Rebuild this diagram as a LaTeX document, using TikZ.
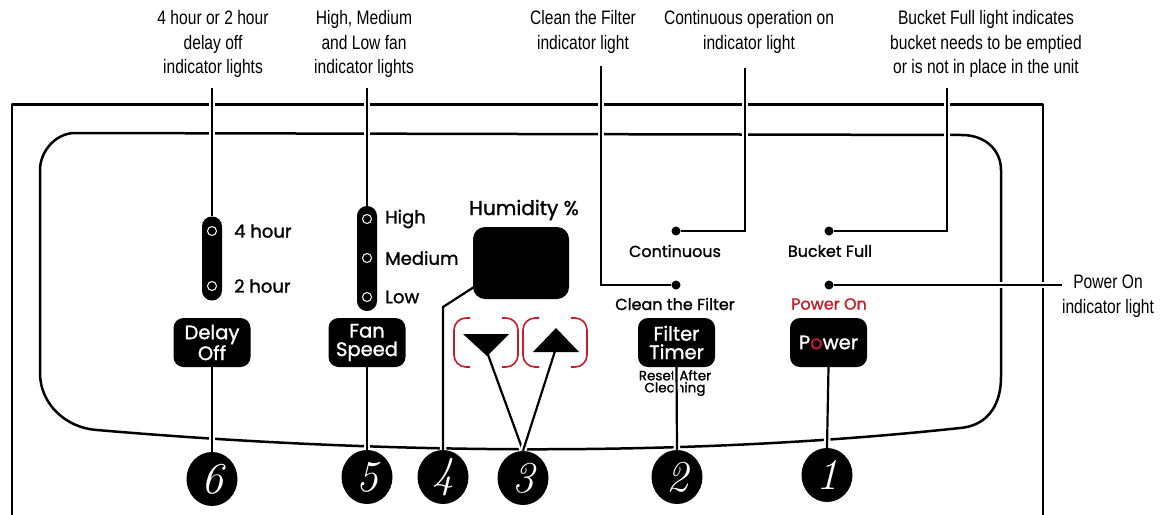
\documentclass[tikz,border=0pt]{standalone}
\usepackage{fontspec}
\usetikzlibrary{shapes.geometric}
\newfontfamily\capfont[FakeStretch=0.8]{Liberation Sans}
\newfontfamily\panelfont[FakeBold=1.3]{Poppins}
\definecolor{panelred}{RGB}{196,28,40}
\pgfdeclarelayer{back}
\pgfdeclarelayer{mid}
\pgfsetlayers{back,mid,main}
\tikzset{
  frameline/.style={line width=2.5pt, line join=round},
  leader/.style={line width=2.2pt, preaction={draw=white, line width=6.5pt}},
  captext/.style={font=\capfont\fontsize{19.5}{24.5}\selectfont, align=center, inner sep=0pt},
  pill/.style={fill=black, rounded corners=9.9pt, minimum width=20pt, inner sep=0pt},
  hole/.style={circle, draw=white, fill=black, line width=1pt, minimum size=9pt, inner sep=0pt},
  btn/.style={fill=black, rounded corners=10pt, minimum width=77pt, minimum height=49pt, inner sep=0pt,
    text=white, align=center, font=\panelfont\fontsize{19.5}{18.5}\selectfont},
  lab/.style={font=\panelfont\fontsize{18}{18}\selectfont, inner sep=0pt},
  sublab/.style={font=\panelfont\fontsize{16}{16}\selectfont, inner sep=0pt},
  dot/.style={circle, fill=black, minimum size=9pt, inner sep=0pt},
  numell/.style={ellipse, fill=black, minimum width=51pt, minimum height=54pt, inner sep=0pt,
    text=white, font=\fontsize{44}{44}\selectfont\itshape},
  brk/.style={draw=panelred, line width=1.6pt, rounded corners=12pt}
}
\begin{document}
\begin{tikzpicture}[x=1pt,y=-1pt]
\useasboundingbox (0,0) rectangle (1167,514);
\begin{pgfonlayer}{back}
% outer frame and panel
\draw[frameline] (12,530) -- (12,104.5) -- (1043,104.5) -- (1043,530);
\draw[frameline] (40,170) .. controls (40,151) and (56,133) .. (75,133) -- (962,135)
  .. controls (985,135) and (1001,150) .. (1001,170) -- (1001,377)
  .. controls (1001,408) and (985,426) .. (960,428)
  .. controls (700,456) and (400,456) .. (97,430)
  .. controls (66,428) and (40,404) .. (40,373) -- cycle;
% text crossed by a leader
\node[font=\panelfont\fontsize{13.5}{12}\selectfont, align=center, inner sep=0pt] (reset) at (675,383) {Reset After\\Cleaning};
\end{pgfonlayer}
% captions
\node[captext] (c6) at (213,44) {4 hour or 2 hour\\delay off\\indicator lights};
\node[captext] (c5) at (364,44) {High, Medium\\and Low fan\\indicator lights};
\node[captext] (cf) at (583,32) {Clean the Filter\\indicator light};
\node[captext] (cc) at (749,32) {Continuous operation on\\indicator light};
\node[captext] (cb) at (986,44) {Bucket Full light indicates\\bucket needs to be emptied\\or is not in place in the unit};
\node[captext] (cp) at (1108,296) {Power On\\indicator light};
% coordinates for free ends
\coordinate (t6) at (212,88);
\coordinate (t5) at (367,88);
\coordinate (tf) at (601,66);
\coordinate (tc) at (745,68);
\coordinate (tb) at (947,88);
\coordinate (tp) at (1062,285);
\coordinate (k4) at (443,307);
\coordinate (h4) at (474,287);
\coordinate (downtip) at (487,352);
\coordinate (uptip) at (556,348);
% indicator pills
\node[pill, minimum height=84pt] (p6) at (212,258.5) {};
\node[pill, minimum height=105pt] (p5) at (367,258.5) {};
\node[hole] (h6a) at (212,231) {};
\node[hole] (h6b) at (212,286) {};
\node[hole] (h5a) at (367,219) {};
\node[hole] (h5b) at (367,258) {};
\node[hole] (h5c) at (367,297) {};
% buttons
\node[btn] (b6) at (212,342.5) {Delay\\Off};
\node[btn] (b5) at (367,342.5) {Fan\\Speed};
\node[btn] (b2) at (676.5,342.5) {Filter\\Timer};
\node[btn] (b1) at (828.5,342.5) {P\textcolor{panelred}{o}wer};
% numbers
\node[numell] (e6) at (212,479) {6};
\node[numell] (e5) at (367,477) {5};
\node[numell] (e4) at (443,477) {4};
\node[numell] (e3) at (523,478) {3};
\node[numell] (e2) at (677,477) {2};
\node[numell] (e1) at (827,475) {1};
% indicator dots
\node[dot] (dcont) at (676,231) {};
\node[dot] (dclean) at (676,285) {};
\node[dot] (dbucket) at (829,231) {};
\node[dot] (dpower) at (829,285) {};
% humidity display
\node[fill=black, rounded corners=12pt, minimum width=96pt, minimum height=72pt, inner sep=0pt] (hbox) at (521,263) {};
\node[font=\panelfont\fontsize{20}{20}\selectfont, inner sep=0pt] (htxt) at (524,210) {Humidity \%};
% arrow keys
\fill (463,334) -- (509,334) -- (487,356) -- cycle;
\fill (533,352) -- (579,352) -- (556,328) -- cycle;
\draw[brk] (470,318) -- (454,318) -- (454,367) -- (470,367);
\draw[brk] (502,318) -- (518,318) -- (518,367) -- (502,367);
\draw[brk] (539,318) -- (523,318) -- (523,367) -- (539,367);
\draw[brk] (571,318) -- (587,318) -- (587,367) -- (571,367);
% panel labels
\node[lab, anchor=west] (l4h) at (234,231) {4 hour};
\node[lab, anchor=west] (l2h) at (234,286) {2 hour};
\node[lab, anchor=west] (lhi) at (385,219) {High};
\node[lab, anchor=west] (lme) at (385,258) {Medium};
\node[lab, anchor=west] (llo) at (385,297) {Low};
\node[sublab] (lcont) at (675,251) {Continuous};
\node[sublab] (lclean) at (675,304) {Clean the Filter};
\node[sublab] (lbuck) at (830,251) {Bucket Full};
\node[sublab, text=panelred] (lpow) at (829,304) {Power On};
% leaders
\begin{pgfonlayer}{mid}
\draw[leader] (t6) -- (p6.north);
\draw[leader] (t5) -- (p5.north);
\draw[leader] (tf) |- (dclean);
\draw[leader] (tc) |- (dcont);
\draw[leader] (tb) |- (dbucket);
\draw[leader] (dpower) -- (tp);
\draw[leader] (b6.south) -- (e6.north);
\draw[leader] (b5.south) -- (e5.north);
\draw[leader] (e4.north) -- (k4) -- (h4);
\draw[leader] (e3.north) -- (downtip);
\draw[leader] (e3.north) -- (uptip);
\draw[leader] (b2.south) -- (e2.north);
\draw[leader] (b1.south) -- (e1.north);
\end{pgfonlayer}
\end{tikzpicture}
\end{document}
